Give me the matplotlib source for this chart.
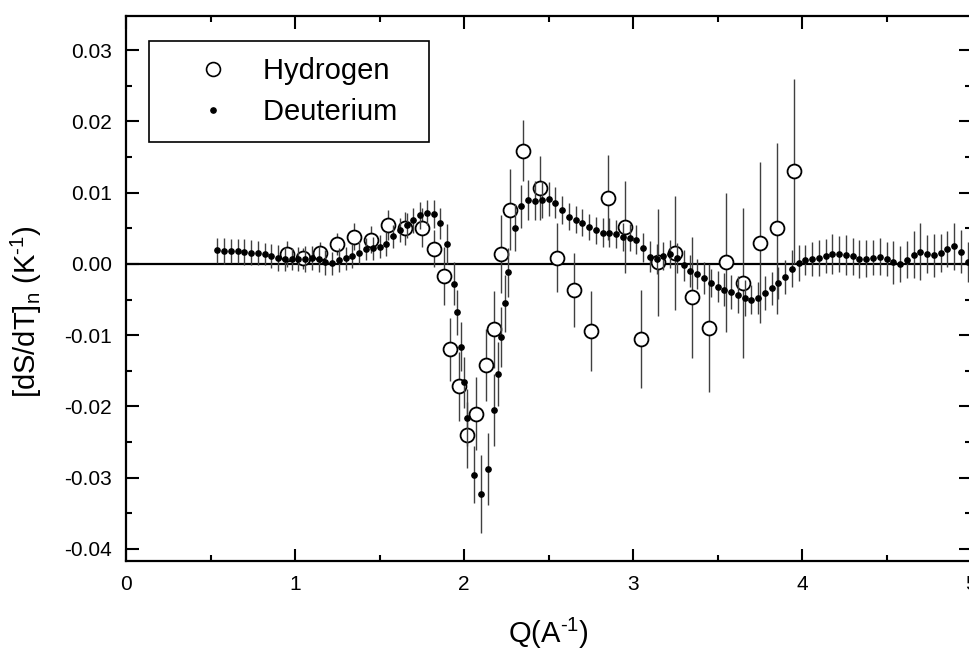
import matplotlib
matplotlib.use("Agg")
import matplotlib.pyplot as plt
from matplotlib.lines import Line2D
from matplotlib.ticker import MultipleLocator, FormatStrFormatter

plt.rcParams['font.family'] = ['Liberation Sans', 'DejaVu Sans']
plt.rcParams['axes.unicode_minus'] = False
plt.rcParams['mathtext.fontset'] = 'custom'
plt.rcParams['mathtext.rm'] = 'Liberation Sans'

# Deuterium: Q (A^-1), [dS/dT]_n (K^-1), error
q_d = [0.54, 0.58, 0.62, 0.66, 0.70, 0.74, 0.78, 0.82, 0.86, 0.90,
       0.94, 0.98, 1.02, 1.06, 1.10, 1.14, 1.18, 1.22, 1.26, 1.30,
       1.34, 1.38, 1.42, 1.46, 1.50, 1.54, 1.58, 1.62, 1.66, 1.70,
       1.74, 1.78, 1.82, 1.86, 1.90, 1.94, 1.96, 1.98, 2.00, 2.02,
       2.06, 2.10, 2.14, 2.18, 2.20, 2.22, 2.24, 2.26, 2.30, 2.34,
       2.38, 2.42, 2.46, 2.50, 2.54, 2.58, 2.62, 2.66, 2.70, 2.74,
       2.78, 2.82, 2.86, 2.90, 2.94, 2.98, 3.02, 3.06, 3.10, 3.14,
       3.18, 3.22, 3.26, 3.30, 3.34, 3.38, 3.42, 3.46, 3.50, 3.54,
       3.58, 3.62, 3.66, 3.70, 3.74, 3.78, 3.82, 3.86, 3.90, 3.94,
       3.98, 4.02, 4.06, 4.10, 4.14, 4.18, 4.22, 4.26, 4.30, 4.34,
       4.38, 4.42, 4.46, 4.50, 4.54, 4.58, 4.62, 4.66, 4.70, 4.74,
       4.78, 4.82, 4.86, 4.90, 4.94, 4.98]
v_d = [0.0019, 0.0018, 0.0018, 0.0018, 0.0017, 0.0016, 0.0015, 0.0014, 0.0011, 0.0008,
       0.0007, 0.0007, 0.0007, 0.0007, 0.0008, 0.0007, 0.0002, 0.0001, 0.0005, 0.0008,
       0.0011, 0.0016, 0.0021, 0.0022, 0.0024, 0.0028, 0.0039, 0.0048, 0.0054, 0.0061,
       0.0068, 0.0072, 0.0070, 0.0057, 0.0028, -0.0028, -0.0068, -0.0116, -0.0166, -0.0216,
       -0.0296, -0.0323, -0.0288, -0.0205, -0.0154, -0.0103, -0.0055, -0.0012, 0.0051, 0.0081,
       0.0090, 0.0089, 0.0090, 0.0091, 0.0086, 0.0076, 0.0066, 0.0062, 0.0058, 0.0052,
       0.0047, 0.0044, 0.0044, 0.0042, 0.0038, 0.0037, 0.0034, 0.0023, 0.0010, 0.0007,
       0.0011, 0.0014, 0.0008, -0.0002, -0.0010, -0.0014, -0.0020, -0.0027, -0.0032, -0.0036,
       -0.0039, -0.0043, -0.0048, -0.0050, -0.0048, -0.0041, -0.0034, -0.0027, -0.0018, -0.0007,
       0.0001, 0.0005, 0.0007, 0.0008, 0.0011, 0.0014, 0.0014, 0.0013, 0.0011, 0.0007,
       0.0007, 0.0009, 0.0010, 0.0007, 0.0002, 0.0000, 0.0006, 0.0013, 0.0017, 0.0014,
       0.0012, 0.0015, 0.0021, 0.0025, 0.0017, 0.0003]
e_d = [0.0018, 0.0018, 0.0017, 0.0017, 0.0018, 0.0017, 0.0017, 0.0016, 0.0017, 0.0018,
       0.0017, 0.0016, 0.0017, 0.0018, 0.0017, 0.0018, 0.0017, 0.0016, 0.0017, 0.0016,
       0.0017, 0.0016, 0.0015, 0.0016, 0.0016, 0.0017, 0.0016, 0.0017, 0.0018, 0.0018,
       0.0019, 0.0018, 0.0020, 0.0022, 0.0028, 0.0030, 0.0032, 0.0034, 0.0036, 0.0040,
       0.0040, 0.0055, 0.0050, 0.0050, 0.0045, 0.0042, 0.0040, 0.0035, 0.0033, 0.0030,
       0.0028, 0.0028, 0.0026, 0.0024, 0.0022, 0.0020, 0.0019, 0.0019, 0.0019, 0.0018,
       0.0019, 0.0020, 0.0020, 0.0019, 0.0020, 0.0019, 0.0020, 0.0021, 0.0022, 0.0021,
       0.0020, 0.0020, 0.0021, 0.0022, 0.0022, 0.0021, 0.0022, 0.0020, 0.0022, 0.0023,
       0.0024, 0.0026, 0.0025, 0.0020, 0.0022, 0.0024, 0.0023, 0.0022, 0.0024, 0.0026,
       0.0025, 0.0021, 0.0024, 0.0025, 0.0024, 0.0028, 0.0025, 0.0028, 0.0026, 0.0027,
       0.0026, 0.0025, 0.0026, 0.0024, 0.0030, 0.0025, 0.0026, 0.0033, 0.0040, 0.0027,
       0.0030, 0.0027, 0.0025, 0.0033, 0.0030, 0.0028]

# Hydrogen
q_h = [0.95, 1.05, 1.15, 1.25, 1.35, 1.45, 1.55, 1.65, 1.75, 1.82,
       1.88, 1.92, 1.97, 2.02, 2.07, 2.13, 2.18, 2.22, 2.27, 2.35,
       2.45, 2.55, 2.65, 2.75, 2.85, 2.95, 3.05, 3.15, 3.25, 3.35,
       3.45, 3.55, 3.65, 3.75, 3.85, 3.95]
v_h = [0.0014, 0.0008, 0.0016, 0.0028, 0.0038, 0.0034, 0.0055, 0.0050, 0.0051, 0.0021,
       -0.0017, -0.0120, -0.0172, -0.0240, -0.0210, -0.0142, -0.0092, 0.0014, 0.0076, 0.0159,
       0.0107, 0.0009, -0.0037, -0.0094, 0.0093, 0.0052, -0.0105, 0.0002, 0.0016, -0.0047,
       -0.0090, 0.0002, -0.0027, 0.0030, 0.0050, 0.0130]
e_h = [0.0018, 0.0015, 0.0015, 0.0016, 0.0019, 0.0019, 0.0021, 0.0023, 0.0027, 0.0026,
       0.0041, 0.0044, 0.0048, 0.0046, 0.0051, 0.0051, 0.0054, 0.0055, 0.0057, 0.0043,
       0.0045, 0.0049, 0.0052, 0.0056, 0.0060, 0.0065, 0.0069, 0.0075, 0.0080, 0.0085,
       0.0090, 0.0098, 0.0105, 0.0113, 0.0120, 0.0130]

fig = plt.figure(figsize=(9.69, 6.52), dpi=100)
ax = fig.add_axes([126/969, 1 - 561/652, 845/969, 545/652])

ax.axhline(0, color='black', lw=1.6, zorder=1)

ax.errorbar(q_h, v_h, yerr=e_h, fmt='o', ms=10, mfc='white', mec='black', mew=1.3,
            ecolor='0.25', elinewidth=1, capsize=0, zorder=2)
ax.errorbar(q_d, v_d, yerr=e_d, fmt='o', ms=3.8, color='black',
            ecolor='0.25', elinewidth=1, capsize=0, zorder=3)

ax.set_xlim(0, 5)
ax.set_ylim(-0.0417, 0.0348)
ax.xaxis.set_major_locator(MultipleLocator(1))
ax.xaxis.set_minor_locator(MultipleLocator(0.5))
ax.yaxis.set_major_locator(MultipleLocator(0.01))
ax.yaxis.set_minor_locator(MultipleLocator(0.005))
ax.yaxis.set_major_formatter(FormatStrFormatter('%.2f'))

ax.tick_params(which='both', direction='in', top=True, right=True, width=1.5,
               labelsize=15, pad=10)
ax.tick_params(which='major', length=9)
ax.tick_params(which='minor', length=4.5)
for s in ax.spines.values():
    s.set_linewidth(1.6)

ax.set_xlabel('Q(A$^{\\text{-}1}$)', fontsize=21, labelpad=16)
ax.set_ylabel('[dS/dT]$_{\\mathregular{n}}$ (K$^{\\text{-}1}$)', fontsize=21)
ax.yaxis.set_label_coords(-0.097, 0.457)

handles = [Line2D([], [], ls='none', marker='o', ms=10, mfc='white', mec='black', mew=1.2),
           Line2D([], [], ls='none', marker='o', ms=3.8, color='black')]
leg = ax.legend(handles, ['Hydrogen  ', 'Deuterium  '], loc='upper left',
                bbox_to_anchor=(0.0272, 0.954), borderaxespad=0, fontsize=21,
                fancybox=False, edgecolor='black', framealpha=1,
                handlelength=3.3, handletextpad=0.05, borderpad=0.55,
                labelspacing=0.45)
leg.get_frame().set_linewidth(1.2)

fig.savefig('out.png', dpi=100)
